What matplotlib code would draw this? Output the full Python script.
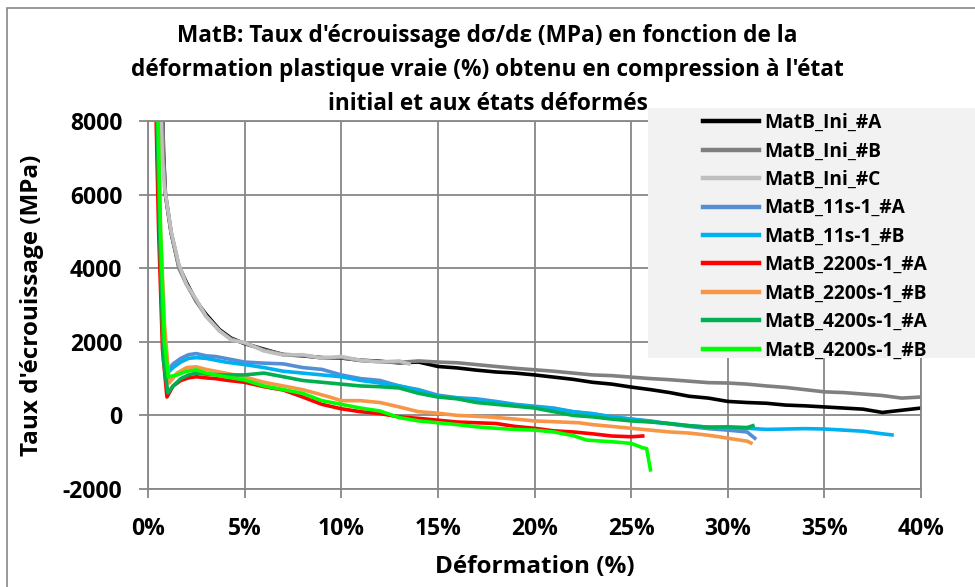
import matplotlib
matplotlib.use('Agg')
import matplotlib.pyplot as plt
from matplotlib.patches import Rectangle

plt.rcParams['font.family'] = ['Open Sans', 'DejaVu Sans']
plt.rcParams['font.weight'] = 'bold'

# strain (%) / hardening rate (MPa)
ini_a_x = [0.75, 0.8, 0.9, 1.2, 1.6, 2.0, 2.5, 3.0, 3.7, 4.3, 5, 6, 7, 8, 9, 10, 11, 12, 13, 14,
           15, 16, 17, 18, 19, 20, 21, 22, 23, 24, 25, 26, 27, 28, 29, 30, 31, 32, 33, 34,
           35, 36, 37, 38, 39, 40]
ini_a_y = [8500, 7200, 6000, 4950, 4050, 3600, 3100, 2750, 2330, 2100, 1950, 1800, 1650, 1620,
           1570, 1560, 1500, 1470, 1430, 1450, 1330, 1290, 1230, 1180, 1150, 1100, 1040, 980,
           900, 850, 770, 700, 620, 520, 470, 380, 350, 330, 280, 260, 230, 200, 170, 80, 140, 200]

ini_b_x = [0.75, 0.8, 0.9, 1.2, 1.6, 2.0, 2.5, 3.0, 3.7, 4.3, 5, 6, 7, 8, 9, 10, 11, 12, 13, 14,
           15, 16, 17, 18, 19, 20, 21, 22, 23, 24, 25, 26, 27, 28, 29, 30, 31, 32, 33, 34,
           35, 36, 37, 38, 39, 40]
ini_b_y = [8500, 7100, 6050, 4950, 4000, 3550, 3100, 2700, 2300, 2080, 1960, 1780, 1660, 1630,
           1560, 1570, 1490, 1460, 1440, 1480, 1450, 1430, 1380, 1330, 1280, 1240, 1200, 1150,
           1100, 1080, 1040, 1000, 970, 930, 890, 880, 850, 800, 760, 700, 640, 620, 580, 540,
           470, 500]

ini_c_x = [0.65, 0.75, 0.85, 1.2, 1.6, 2.0, 2.5, 3.0, 3.7, 4.3, 5, 6, 7, 8, 9, 10, 11, 12, 13, 13.5]
ini_c_y = [8500, 7000, 6200, 5000, 4100, 3550, 3150, 2700, 2300, 2050, 1980, 1750, 1640, 1650,
           1560, 1600, 1500, 1450, 1480, 1400]

s11_a_x = [0.45, 0.6, 0.8, 1.0, 1.3, 1.7, 2.1, 2.5, 3, 3.5, 4, 5, 6, 7, 8, 9, 10, 11, 12, 13,
           14, 15, 16, 17, 18, 19, 20, 21, 22, 23, 24, 25, 26, 27, 28, 29, 30, 31, 31.4]
s11_a_y = [8500, 5000, 2000, 1200, 1400, 1550, 1650, 1680, 1620, 1600, 1550, 1450, 1420, 1400,
           1300, 1250, 1100, 1000, 950, 800, 700, 550, 480, 450, 380, 300, 250, 200, 100, 50,
           -40, -100, -150, -230, -300, -360, -400, -450, -620]

s11_b_x = [0.45, 0.6, 0.8, 1.0, 1.3, 1.7, 2.1, 2.5, 3, 3.5, 4, 5, 6, 7, 8, 9, 10, 11, 12, 13,
           14, 15, 16, 17, 18, 19, 20, 21, 22, 23, 24, 25, 26, 27, 28, 29, 30, 31, 32, 33,
           34, 35, 36, 37, 38, 38.5]
s11_b_y = [8500, 5000, 2000, 1150, 1300, 1450, 1550, 1570, 1550, 1500, 1450, 1380, 1300, 1200,
           1150, 1100, 1050, 950, 880, 800, 680, 520, 470, 420, 360, 290, 230, 180, 100, 40,
           -40, -100, -170, -230, -280, -320, -340, -350, -380, -370, -360, -370, -400, -430,
           -500, -530]

s2200_a_x = [0.4, 0.55, 0.75, 0.98, 1.3, 1.7, 2.1, 2.5, 3, 3.5, 4, 5, 6, 7, 8, 9, 10, 11, 12,
             13, 14, 15, 16, 17, 18, 19, 20, 21, 22, 23, 24, 25, 25.6]
s2200_a_y = [8500, 5000, 1800, 500, 800, 950, 1020, 1050, 1020, 1000, 960, 900, 780, 690, 500,
             300, 180, 100, 50, -40, -80, -130, -180, -200, -220, -300, -350, -420, -450, -500,
             -560, -580, -560]

s2200_b_x = [0.5, 0.65, 0.85, 1.1, 1.5, 2, 2.5, 3, 4, 5, 6, 7, 8, 9.4, 10, 11, 12, 13, 14, 15,
             16, 17.6, 19, 20, 22.3, 23, 24, 25, 26, 27, 28, 29, 29.6, 30, 31, 31.2]
s2200_b_y = [8500, 5000, 2500, 880, 1150, 1300, 1320, 1250, 1150, 1045, 900, 800, 700, 500, 400,
             400, 350, 230, 100, 60, 0, -40, -100, -150, -200, -250, -300, -350, -400, -450,
             -480, -540, -585, -620, -700, -750]

s4200_a_x = [0.45, 0.6, 0.8, 1.03, 1.3, 1.7, 2.1, 2.5, 3, 4, 5, 6, 7, 8, 9, 10, 11, 12, 13, 14,
             15, 16, 17, 18, 19, 20, 21, 22, 23, 24, 25, 26, 27, 28, 29, 30, 31, 31.3]
s4200_a_y = [8500, 5000, 1500, 610, 800, 1000, 1100, 1150, 1120, 1100, 1100, 1150, 1050, 950,
             900, 850, 800, 780, 745, 600, 500, 450, 350, 300, 250, 200, 100, 0, -40, -100,
             -150, -180, -220, -280, -320, -310, -330, -280]

s4200_b_x = [0.5, 0.65, 0.85, 1.05, 1.5, 2, 2.5, 3, 4, 5, 6, 7, 8, 9, 10, 11, 12, 13, 14, 15,
             16, 17, 18, 19, 20, 21, 22, 22.7, 23.5, 24.1, 25, 25.6, 25.8, 26]
s4200_b_y = [8500, 5000, 2000, 1045, 1100, 1200, 1235, 1150, 1050, 963, 800, 700, 600, 400, 300,
             200, 120, -60, -150, -200, -250, -310, -350, -380, -400, -450, -550, -670, -700,
             -720, -760, -880, -900, -1480]

names = ['MatB_Ini_#A', 'MatB_Ini_#B', 'MatB_Ini_#C', 'MatB_11s-1_#A', 'MatB_11s-1_#B',
         'MatB_2200s-1_#A', 'MatB_2200s-1_#B', 'MatB_4200s-1_#A', 'MatB_4200s-1_#B']
colors = ['#000000', '#808080', '#BFBFBF', '#558ED5', '#00B0F0', '#FF0000', '#F79646',
          '#00B050', '#00FF00']
series = [(ini_a_x, ini_a_y), (ini_b_x, ini_b_y), (ini_c_x, ini_c_y), (s11_a_x, s11_a_y),
          (s11_b_x, s11_b_y), (s2200_a_x, s2200_a_y), (s2200_b_x, s2200_b_y),
          (s4200_a_x, s4200_a_y), (s4200_b_x, s4200_b_y)]

xticks = list(range(0, 41, 5))
yticks = list(range(-2000, 8001, 2000))

fig = plt.figure(figsize=(9.75, 5.87), dpi=100)
ax = fig.add_axes([148/975, 1 - 489/587, (921-148)/975, (489-121)/587])

lines = []
for (x, y), name, c in zip(series, names, colors):
    l, = ax.plot(x, y, color=c, lw=2.6, label=name, solid_joinstyle='round')
    lines.append(l)

ax.set_xlim(0, 40)
ax.set_ylim(-2000, 8000)
ax.set_xticks(xticks)
ax.set_xticklabels(['%d%%' % v for v in xticks])
ax.set_yticks(yticks)
ax.set_yticklabels([str(v) for v in yticks])
ax.grid(True, color='#878787', lw=1.3)
ax.set_axisbelow(True)
for s in ax.spines.values():
    s.set_color('#878787')
    s.set_linewidth(1.3)
ax.tick_params(colors='#878787', width=1.3, length=6.5, labelsize=16.5, labelcolor='black')
ax.tick_params(axis='y', pad=12)
ax.tick_params(axis='x', pad=14)
for t in ax.get_xticklabels() + ax.get_yticklabels():
    t.set_fontweight('bold')

ax.set_xlabel('Déformation (%)', fontsize=17.5, fontweight='bold', va='center')
ax.xaxis.set_label_coords(0.5, (489 - 567) / 368)
ax.set_ylabel("Taux d'écrouissage (MPa)", fontsize=17.5, fontweight='bold', va='center')
ax.yaxis.set_label_coords((32 - 148) / 773, 0.5)

fig.text(0.5, 1 - 70/587, "MatB: Taux d'écrouissage dσ/dε (MPa) en fonction de la\n"
         "déformation plastique vraie (%) obtenu en compression à l'état\n"
         "initial et aux états déformés", ha='center', va='center', fontsize=16.3,
         fontweight='bold', linespacing=1.55)

# legend background box
fig.patches.append(Rectangle((648/975, 1 - 358/587), 330/975, 250/587, transform=fig.transFigure,
                             facecolor='#F2F2F2', edgecolor='none', zorder=2))
leg = fig.legend(lines, names, loc='upper left', bbox_to_anchor=(703/975, 1 - 113/587),
                 frameon=False, fontsize=13.8, handlelength=2.9, handletextpad=0.3,
                 labelspacing=0.44, borderpad=0, borderaxespad=0)
leg.set_zorder(3)
for t in leg.get_texts():
    t.set_fontweight('bold')
for h in leg.legend_handles:
    h.set_linewidth(3.2)

# outer chart border
fig.patches.append(Rectangle((7/975, -0.05), 1.1, 1.05 - 8/587, transform=fig.transFigure,
                             facecolor='none', edgecolor='#878787', lw=1.2, zorder=0))

fig.savefig('out.png', dpi=100)
